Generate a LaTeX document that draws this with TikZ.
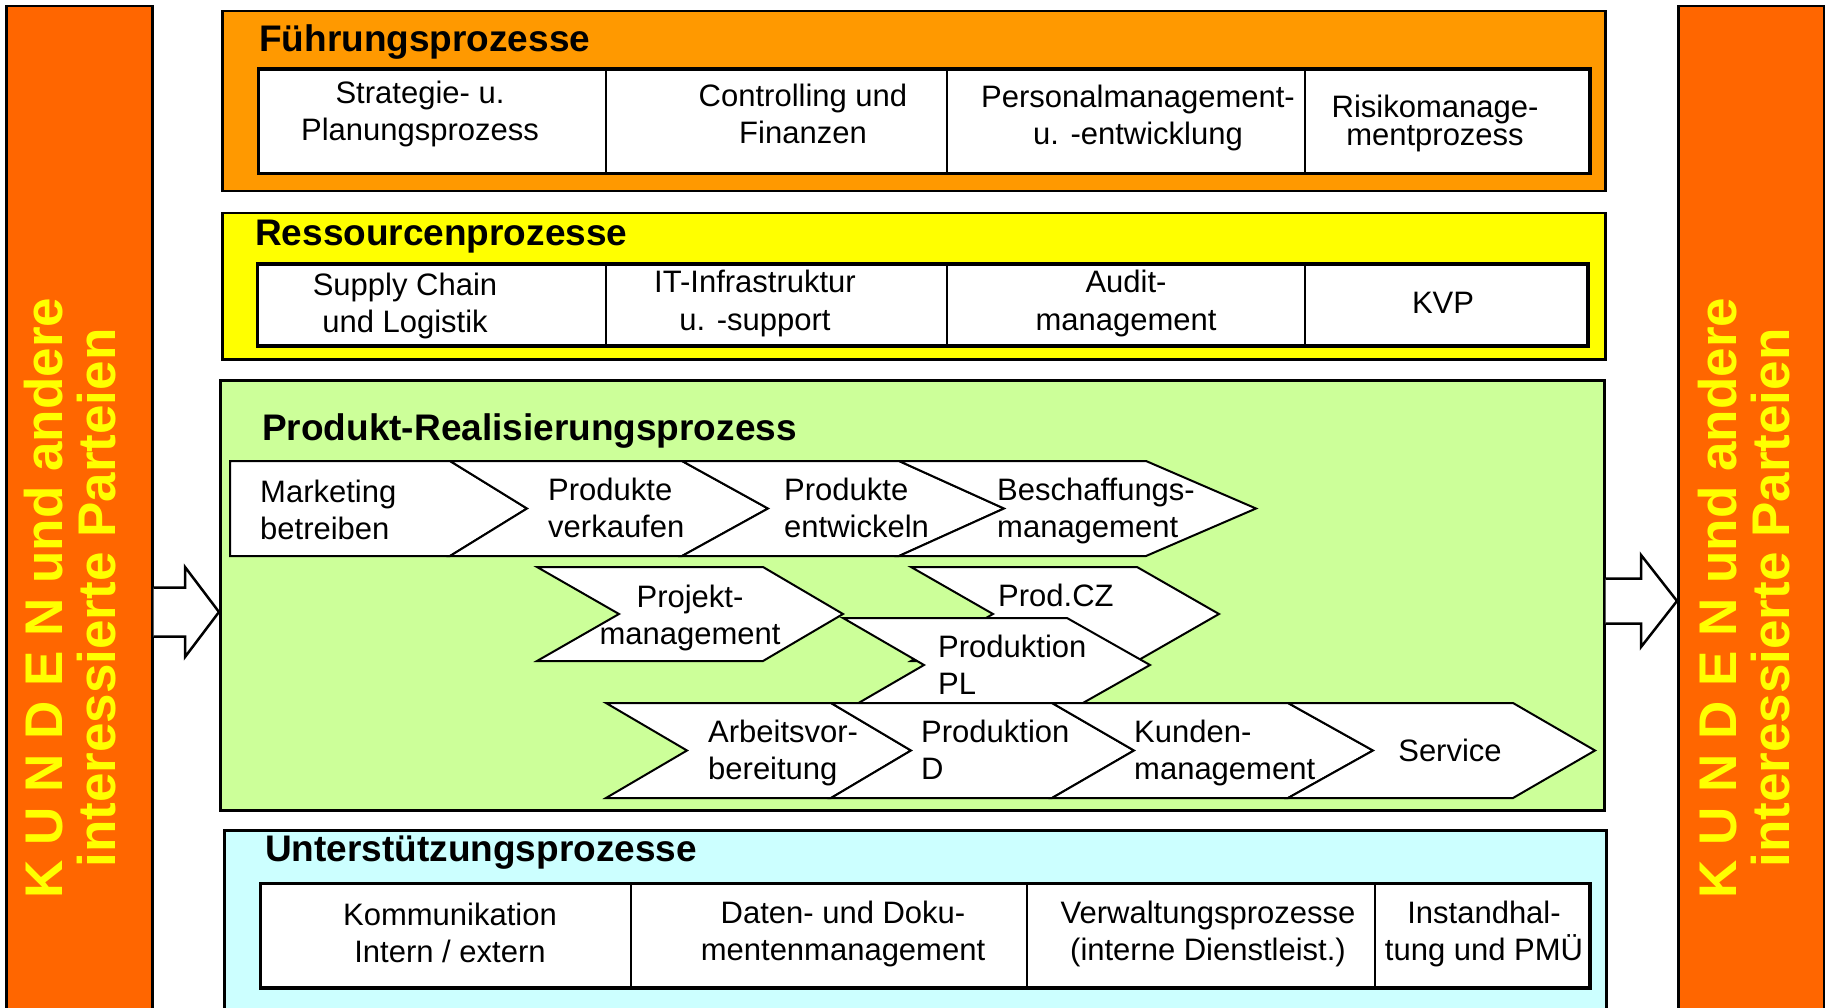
\documentclass[tikz,border=0pt]{standalone}
\usepackage{fontspec}
\setmainfont{Liberation Sans}
\usetikzlibrary{calc}
\definecolor{kunde}{HTML}{FF6600}
\definecolor{fuehr}{HTML}{FF9900}
\definecolor{ress}{HTML}{FFFF00}
\definecolor{prodc}{HTML}{CCFF99}
\definecolor{unter}{HTML}{CCFFFF}
\definecolor{kundtxt}{HTML}{FFFF00}
\begin{document}
\begin{tikzpicture}[x=1pt,y=-1pt,
  bar/.style={draw=black, line width=2.5pt, fill=kunde, inner sep=0pt, anchor=north west},
  box/.style={draw=black, line width=2.5pt, inner sep=0pt, anchor=north west},
  cell/.style={draw=black, line width=2pt, fill=white, inner sep=0pt, anchor=north west},
  outer/.style={draw=black, line width=3pt},
  chev/.style={draw=black, fill=white, line width=2pt, line join=miter},
  barrow/.style={draw=black, fill=white, line width=2.5pt, line join=miter},
  ttl/.style={font=\fontsize{37}{44}\selectfont\bfseries, anchor=base west, inner sep=0pt},
  txt/.style={font=\fontsize{31}{37}\selectfont, align=center, inner sep=0pt, anchor=base},
  ltxt/.style={font=\fontsize{31}{37}\selectfont, align=left, inner sep=0pt, anchor=base west},
  kund/.style={font=\fontsize{53}{53}\selectfont\bfseries, text=kundtxt, align=center, inner sep=0pt, rotate=90}
]
\clip (0,0) rectangle (1825,1008);
\fill[white] (0,0) rectangle (1825,1008);

% side bars
\node[bar, minimum width=146pt, minimum height=1030pt] (kl) at (5,5) {};
\node[bar, minimum width=146pt, minimum height=1030pt] (kr) at (1677,5) {};
\node[kund] (klt) at (70.5,598) {K U N D E N und andere\\interessierte Parteien};
\node[kund] (krt) at (1744.5,598) {K U N D E N und andere\\interessierte Parteien};

% main boxes
\node[box, fill=fuehr, minimum width=1383pt, minimum height=180pt] (fp) at (221,10) {};
\node[box, fill=ress, minimum width=1383pt, minimum height=146pt] (rp) at (221,212) {};
\node[box, fill=prodc, minimum width=1384pt, minimum height=430pt] (gp) at (219,379) {};
\node[box, fill=unter, minimum width=1382pt, minimum height=220pt] (up) at (223,829) {};

% titles
\node[ttl] (tf) at (259,52) {Führungsprozesse};
\node[ttl] (tr) at (255,246) {Ressourcenprozesse};
\node[ttl] (tg) at (262,440) {Produkt-Realisierungsprozess};
\node[ttl] (tu) at (265,861) {Unterstützungsprozesse};

% Fuehrung table
\node[cell, minimum width=347pt, minimum height=103pt] (f1) at (258,69) {};
\node[cell, minimum width=341pt, minimum height=103pt] (f2) at (605,69) {};
\node[cell, minimum width=358pt, minimum height=103pt] (f3) at (946,69) {};
\node[cell, minimum width=284pt, minimum height=103pt] (f4) at (1304,69) {};
\draw[outer] (f1.north west) rectangle (f4.south east);

% Ressourcen table
\node[cell, minimum width=348pt, minimum height=80pt] (r1) at (257,264) {};
\node[cell, minimum width=341pt, minimum height=80pt] (r2) at (605,264) {};
\node[cell, minimum width=358pt, minimum height=80pt] (r3) at (946,264) {};
\node[cell, minimum width=282pt, minimum height=80pt] (r4) at (1304,264) {};
\draw[outer] (r1.north west) rectangle (r4.south east);

% Unterstuetzung table
\node[cell, minimum width=370pt, minimum height=103pt] (u1) at (260,883) {};
\node[cell, minimum width=396pt, minimum height=103pt] (u2) at (630,883) {};
\node[cell, minimum width=348pt, minimum height=103pt] (u3) at (1026,883) {};
\node[cell, minimum width=214pt, minimum height=103pt] (u4) at (1374,883) {};
\draw[outer] (u1.north west) rectangle (u4.south east);

% arrows
\coordinate (aL) at (185,612);
\filldraw[barrow] ($(kl.east |- aL)+(0,-24.5)$) -- ($(aL)+(0,-24.5)$) -- ($(aL)+(0,-45)$)
  -- (gp.west |- aL) -- ($(aL)+(0,45)$) -- ($(aL)+(0,24.5)$) -- ($(kl.east |- aL)+(0,24.5)$);
\coordinate (aR) at (1641,601);
\filldraw[barrow] ($(gp.east |- aR)+(0,-22.5)$) -- ($(aR)+(0,-22.5)$) -- ($(aR)+(0,-46)$)
  -- (kr.west |- aR) -- ($(aR)+(0,46)$) -- ($(aR)+(0,22.5)$) -- ($(gp.east |- aR)+(0,22.5)$);

% chevrons row 1
\draw[chev] (230,461) -- (450,461) -- (527,508.5) -- (450,556) -- (230,556) -- cycle;
\draw[chev] (450,461) -- (682,461) -- (768,508.5) -- (682,556) -- (450,556) -- (527,508.5) -- cycle;
\draw[chev] (682,461) -- (899,461) -- (1004,508.5) -- (899,556) -- (682,556) -- (768,508.5) -- cycle;
\draw[chev] (899,461) -- (1146,461) -- (1256,508.5) -- (1146,556) -- (899,556) -- (1004,508.5) -- cycle;
% row 2
\draw[chev] (537,567) -- (763,567) -- (843,614) -- (763,661) -- (537,661) -- (619,614) -- cycle;
\draw[chev] (911,567) -- (1137,567) -- (1219,614) -- (1137,661) -- (911,661) -- (993,614) -- cycle;
\draw[chev] (843,618) -- (1067,618) -- (1150,665) -- (1067,712) -- (843,712) -- (924,665) -- cycle;
% row 3
\draw[chev] (606,703) -- (831,703) -- (911,750.5) -- (831,798) -- (606,798) -- (687,750.5) -- cycle;
\draw[chev] (831,703) -- (1052,703) -- (1134,750.5) -- (1052,798) -- (831,798) -- (911,750.5) -- cycle;
\draw[chev] (1052,703) -- (1288,703) -- (1373,750.5) -- (1288,798) -- (1052,798) -- (1134,750.5) -- cycle;
\draw[chev] (1288,703) -- (1513,703) -- (1595,750.5) -- (1513,798) -- (1288,798) -- (1373,750.5) -- cycle;

% table texts (anchor at baseline of last line)
\node[txt] (f1t) at (420,141) {Strategie- u.\\Planungsprozess};
\node[txt] (f2t) at (803,144) {Controlling und\\Finanzen};
\node[txt] (f3t) at (1138,145) {Personalmanagement-\\u. -entwicklung};
\node[txt, font=\fontsize{31}{28}\selectfont] (f4t) at (1435,146) {Risikomanage-\\mentprozess};
\node[txt] (r1t) at (405,332) {Supply Chain\\und Logistik};
\node[txt] (r2t) at (755,330) {IT-Infrastruktur\\u. -support};
\node[txt] (r3t) at (1126,330) {Audit-\\management};
\node[txt] (r4t) at (1443,313) {KVP};
\node[txt] (u1t) at (450,962) {Kommunikation\\Intern / extern};
\node[txt] (u2t) at (843,960) {Daten- und Doku-\\mentenmanagement};
\node[txt] (u3t) at (1208,960) {Verwaltungsprozesse\\(interne Dienstleist.)};
\node[txt] (u4t) at (1484,960) {Instandhal-\\tung und PMÜ};

% chevron texts
\node[ltxt] (c1) at (260,539) {Marketing\\betreiben};
\node[ltxt] (c2) at (548,537) {Produkte\\verkaufen};
\node[ltxt] (c3) at (784,537) {Produkte\\entwickeln};
\node[ltxt] (c4) at (997,537) {Beschaffungs-\\management};
\node[txt] (c5) at (690,644) {Projekt-\\management};
\node[ltxt] (c6) at (998,606) {Prod.CZ};
\node[ltxt] (c7) at (938,694) {Produktion\\PL};
\node[ltxt] (c8) at (708,779) {Arbeitsvor-\\bereitung};
\node[ltxt] (c9) at (921,779) {Produktion\\D};
\node[ltxt] (c10) at (1134,779) {Kunden-\\management};
\node[txt] (c11) at (1450,761) {Service};
\end{tikzpicture}
\end{document}
